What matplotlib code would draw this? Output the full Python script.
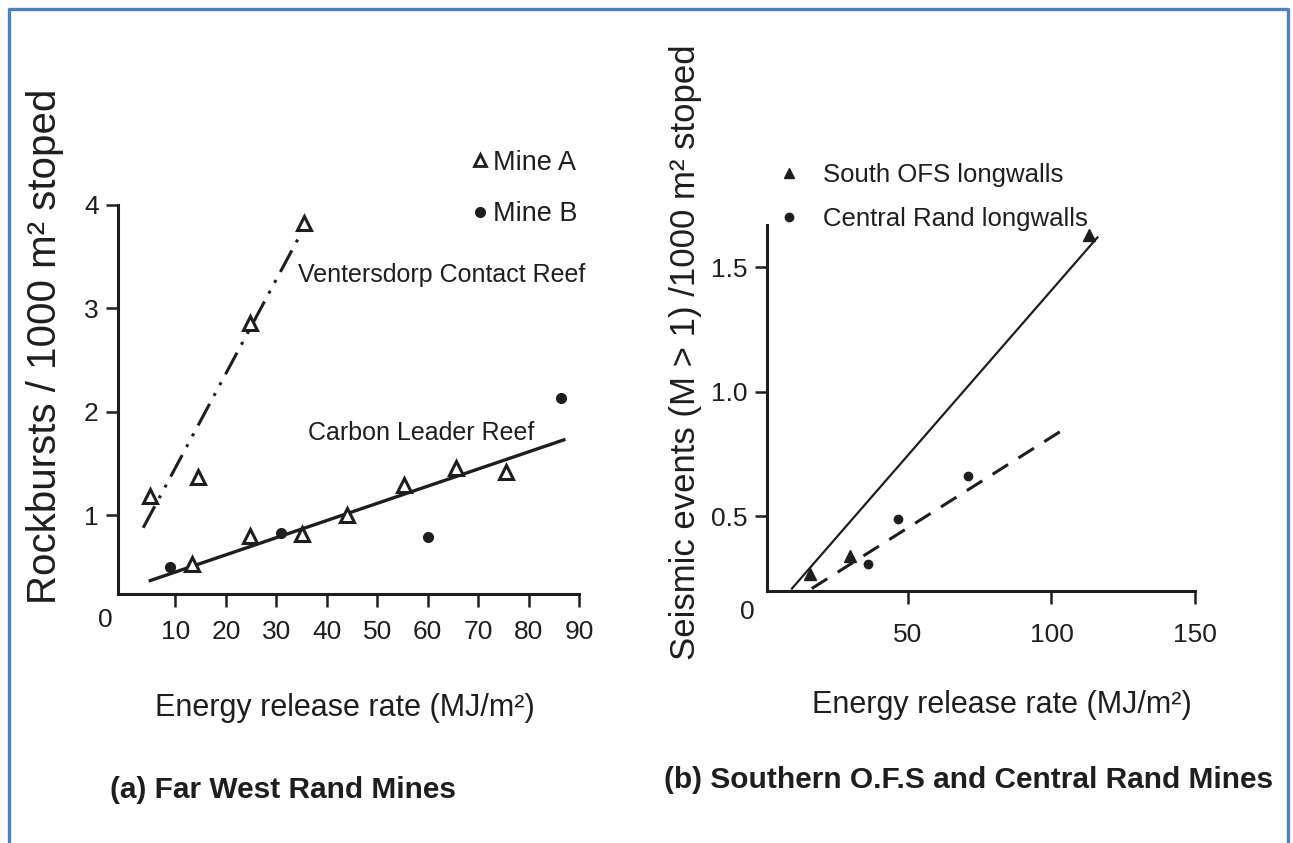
import matplotlib
matplotlib.use('Agg')
import matplotlib.pyplot as plt
from matplotlib.lines import Line2D

plt.rcParams['font.family'] = ['Liberation Sans Narrow', 'Liberation Sans', 'DejaVu Sans']

# (a) Far West Rand: Mine A triangles, Mine B dots
mine_a_x = [5, 14.5, 24.8, 35.4, 13.3, 24.7, 35, 44, 55.4, 65.7, 75.6]
mine_a_y = [1.19, 1.37, 2.86, 3.83, 0.53, 0.80, 0.82, 1.00, 1.29, 1.46, 1.42]
mine_b_x = [9, 31, 60, 86.5]
mine_b_y = [0.50, 0.83, 0.79, 2.13]
vcr_x = [3.6, 34.6]
vcr_y = [0.88, 3.70]
clr_x = [5, 87]
clr_y = [0.37, 1.73]
left_xticks = [10, 20, 30, 40, 50, 60, 70, 80, 90]
left_yticks = [1, 2, 3, 4]

# (b) Southern OFS / Central Rand
ofs_x = [15.8, 29.8, 113]
ofs_y = [0.27, 0.34, 1.63]
cr_x = [36, 46.5, 71]
cr_y = [0.31, 0.49, 0.66]
ofs_fit_x = [9.6, 116]
ofs_fit_y = [0.21, 1.62]
cr_fit_x = [16.5, 103]
cr_fit_y = [0.21, 0.84]
right_xticks = [50, 100, 150]
right_yticks = [0.5, 1.0, 1.5]

ink = '#1e1e1e'
W, H = 1293, 843
fig = plt.figure(figsize=(12.93, 8.43), dpi=100)


def px_axes(x0, y0, x1, y1):
    return fig.add_axes([x0 / W, 1 - y1 / H, (x1 - x0) / W, (y1 - y0) / H])


def style(ax):
    for s in ['top', 'right']:
        ax.spines[s].set_visible(False)
    for s in ['left', 'bottom']:
        ax.spines[s].set_linewidth(2.2)
        ax.spines[s].set_color(ink)
    ax.tick_params(direction='out', width=1.8, length=9, colors=ink, labelsize=19)
    ax.tick_params(axis='x', pad=10)
    ax.tick_params(axis='y', pad=5)


# ---- left panel
ax1 = px_axes(118, 205, 579, 594)
style(ax1)
ax1.set_xlim(-1.4, 90)
ax1.set_ylim(0.24, 4.0)
ax1.set_xticks(left_xticks)
ax1.set_yticks(left_yticks)
ax1.plot(vcr_x, vcr_y, color=ink, lw=2.2, linestyle=(0, (8, 3, 1, 3, 1, 3)))
ax1.plot(clr_x, clr_y, color=ink, lw=2.4)
ax1.plot(mine_a_x, mine_a_y, '^', ms=10, mfc='white', mec=ink, mew=2.2, clip_on=False)
ax1.plot(mine_b_x, mine_b_y, 'o', ms=7, color=ink, clip_on=False)
ax1.text(34.2, 3.32, 'Ventersdorp Contact Reef', fontsize=18, va='center', ha='left', color=ink)
ax1.text(36.2, 1.80, 'Carbon Leader Reef', fontsize=18, va='center', ha='left', color=ink)

h1 = [Line2D([], [], marker='^', ls='none', ms=8, mfc='white', mec=ink, mew=2),
      Line2D([], [], marker='o', ls='none', ms=7, color=ink)]
fig.legend(h1, ['Mine A', 'Mine B'], loc='upper left', bbox_to_anchor=(458 / W, 1 - 136 / H),
           frameon=False, fontsize=19.5, handlelength=0.6, handletextpad=0.2,
           labelspacing=0.95, borderpad=0, labelcolor=ink)

# ---- right panel
ax2 = px_axes(767, 225, 1195, 591)
style(ax2)
ax2.set_xlim(0.9, 150)
ax2.set_ylim(0.2, 1.67)
ax2.set_xticks(right_xticks)
ax2.set_yticks(right_yticks)
ax2.set_yticklabels(['0.5', '1.0', '1.5'])
ax2.tick_params(axis='x', pad=14)
ax2.plot(ofs_fit_x, ofs_fit_y, color=ink, lw=1.6)
ax2.plot(cr_fit_x, cr_fit_y, color=ink, lw=2.2, linestyle=(0, (6, 4)))
ax2.plot(ofs_x, ofs_y, '^', ms=8, color=ink, clip_on=False)
ax2.plot(cr_x, cr_y, 'o', ms=6, color=ink, clip_on=False)

h2 = [Line2D([], [], marker='^', ls='none', ms=7, color=ink),
      Line2D([], [], marker='o', ls='none', ms=6, color=ink)]
fig.legend(h2, ['South OFS longwalls', 'Central Rand longwalls'], loc='upper left',
           bbox_to_anchor=(766 / W, 1 - 150 / H), frameon=False, fontsize=18.5,
           handlelength=0.8, handletextpad=0.9, labelspacing=0.8, borderpad=0, labelcolor=ink)

# origin labels, axis labels, captions
fig.text(105 / W, 1 - 620 / H, '0', fontsize=19, ha='center', va='center', color=ink)
fig.text(747 / W, 1 - 612 / H, '0', fontsize=19, ha='center', va='center', color=ink)
fig.text(45 / W, 1 - 346 / H, 'Rockbursts / 1000 m² stoped', rotation=90, fontsize=29,
         ha='center', va='center', color=ink)
fig.text(686 / W, 1 - 352 / H, 'Seismic events (M > 1) /1000 m² stoped', rotation=90,
         fontsize=25, ha='center', va='center', color=ink)
fig.text(345 / W, 1 - 708 / H, 'Energy release rate (MJ/m²)', fontsize=22,
         ha='center', va='center', color=ink)
fig.text(1002 / W, 1 - 705 / H, 'Energy release rate (MJ/m²)', fontsize=22,
         ha='center', va='center', color=ink)
fig.text(283 / W, 1 - 790 / H, '(a) Far West Rand Mines', fontsize=21.5, fontweight='bold',
         ha='center', va='center', color=ink)
fig.text(969 / W, 1 - 780 / H, '(b) Southern O.F.S and Central Rand Mines', fontsize=21.5,
         fontweight='bold', ha='center', va='center', color=ink)

# blue frame
frame = '#4f81bd'
fig.add_artist(Line2D([9 / W, 9 / W, 1288 / W, 1288 / W], [0, 1 - 9 / H, 1 - 9 / H, 0],
                      transform=fig.transFigure, color=frame, lw=2.4))

fig.savefig('out.png', dpi=100)
